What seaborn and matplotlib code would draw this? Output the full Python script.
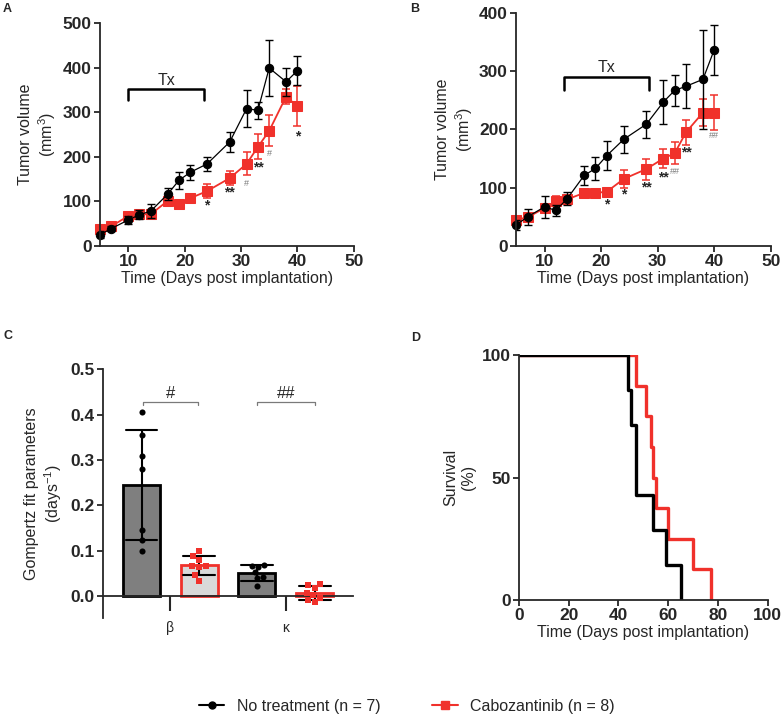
import numpy as np
import pandas as pd
import matplotlib
matplotlib.use("Agg")
import matplotlib.pyplot as plt
import seaborn as sns
from matplotlib.lines import Line2D

# ---- data ----
days = [5, 7, 10, 12, 14, 17, 19, 21, 24, 28, 31, 33, 35, 38, 40]

a_ctrl = [25, 39, 58, 70, 78, 116, 147, 165, 184, 233, 308, 304, 399, 368, 393]
a_ctrl_sd = [8, 5, 9, 10, 15, 13, 19, 17, 15, 22, 41, 19, 63, 32, 32]
a_cabo = [37, 44, 67, 71, 71, 101, 93, 107, 123, 152, 184, 222, 258, 335, 313]
a_cabo_sd = [10, 5, 6, 8, 10, 8, 6, 10, 16, 15, 26, 28, 35, 17, 45]
a_sig_days = [24, 28, 31, 33, 35, 40]
a_sig_text = ["*", "**", "#", "**", "#", "*"]
a_sig_y = [90, 120, 140, 176, 207, 246]

b_ctrl = [36, 50, 67, 61, 81, 121, 133, 155, 183, 209, 247, 267, 274, 286, 337]
b_ctrl_sd = [8, 14, 19, 9, 11, 16, 20, 25, 23, 23, 37, 27, 38, 85, 43]
b_cabo = [45, 49, 65, 77, 80, 91, 91, 93, 115, 132, 150, 159, 195, 229, 229]
b_cabo_sd = [5, 6, 7, 8, 8, 5, 3, 7, 16, 18, 17, 19, 21, 23, 30]
b_sig_days = [21, 24, 28, 31, 33, 35, 40]
b_sig_text = ["*", "*", "**", "**", "##", "**", "##"]
b_sig_y = [72, 88, 100, 118, 127, 161, 189]

beta_ctrl = [0.405, 0.355, 0.31, 0.28, 0.145, 0.125, 0.10]
beta_cabo = [0.10, 0.088, 0.08, 0.066, 0.066, 0.064, 0.046, 0.034]
kappa_ctrl = [0.068, 0.066, 0.065, 0.053, 0.042, 0.040, 0.022]
kappa_cabo = [0.027, 0.024, 0.018, 0.008, 0.002, -0.003, -0.008, -0.013]

ctrl_death = [44, 45, 47, 47, 54, 59, 65]
cabo_death = [47, 51, 53, 54, 55, 60, 70, 77]

labels = ["No treatment (n = 7)", "Cabozantinib (n = 8)"]
RED = "#f0312b"
GREY_SIG = "#7a7a7a"
TICK_FS = 12.5
LABEL_FS = 11.5

sns.set_style("ticks")
plt.rcParams["font.family"] = ["Liberation Sans", "DejaVu Sans"]
plt.rcParams["mathtext.default"] = "regular"
plt.rcParams["axes.linewidth"] = 1.3
plt.rcParams["xtick.major.width"] = 1.3
plt.rcParams["ytick.major.width"] = 1.3
plt.rcParams["xtick.major.size"] = 4
plt.rcParams["ytick.major.size"] = 4
plt.rcParams["xtick.major.pad"] = 2
plt.rcParams["ytick.major.pad"] = 2

fig = plt.figure(figsize=(7.81, 7.17), dpi=100)
axA = fig.add_axes([0.128, 0.657, 0.325, 0.311])
axB = fig.add_axes([0.661, 0.657, 0.326, 0.325])
axC = fig.add_axes([0.132, 0.138, 0.320, 0.347])
axD = fig.add_axes([0.6645, 0.163, 0.3185, 0.342])


def bold_ticks(ax, size=TICK_FS):
    for lab in ax.get_xticklabels() + ax.get_yticklabels():
        lab.set_fontweight("bold")
        lab.set_fontsize(size)


def growth_panel(ax, ctrl, ctrl_sd, cabo, cabo_sd, sig_days, sig_text, sig_y, ylim, ystep):
    sns.lineplot(x=days, y=cabo, color=RED, marker="s", markersize=6.5,
                 markeredgecolor=RED, linewidth=1.3, clip_on=False, ax=ax)
    ax.errorbar(days, cabo, yerr=cabo_sd, fmt="none", ecolor=RED, elinewidth=1.1,
                capsize=3, capthick=1.1)
    sns.lineplot(x=days, y=ctrl, color="black", marker="o", markersize=6,
                 markeredgecolor="black", linewidth=0.9, clip_on=False, ax=ax)
    ax.errorbar(days, ctrl, yerr=ctrl_sd, fmt="none", ecolor="black", elinewidth=1.0,
                capsize=3, capthick=1.0)
    for d, t, y in zip(sig_days, sig_text, sig_y):
        if "#" in t:
            ax.text(d, y, t, ha="center", va="center", fontsize=6.5, color=GREY_SIG)
        else:
            ax.text(d, y, t, ha="center", va="center", fontsize=10, fontweight="bold")
    ax.set_xlim(5, 50)
    ax.set_ylim(*ylim)
    ax.set_xticks([10, 20, 30, 40, 50])
    ax.set_yticks(np.arange(0, ylim[1] + 1, ystep))
    ax.set_xlabel("Time (Days post implantation)", fontsize=LABEL_FS, labelpad=1)
    ax.set_ylabel("Tumor volume\n(mm$^3$)", fontsize=LABEL_FS, labelpad=3)
    sns.despine(ax=ax)
    bold_ticks(ax)


growth_panel(axA, a_ctrl, a_ctrl_sd, a_cabo, a_cabo_sd, a_sig_days, a_sig_text, a_sig_y,
             (0, 500), 100)
axA.plot([10, 10, 23.5, 23.5], [327, 353, 353, 327], color="black", lw=1.8)
axA.text(16.8, 372, "Tx", ha="center", va="center", fontsize=11.5)

growth_panel(axB, b_ctrl, b_ctrl_sd, b_cabo, b_cabo_sd, b_sig_days, b_sig_text, b_sig_y,
             (0, 400), 100)
axB.plot([13.5, 13.5, 28.5, 28.5], [267, 290, 290, 267], color="black", lw=1.8)
axB.text(21, 307, "Tx", ha="center", va="center", fontsize=11.5)

# ---- panel C ----
c_order = ["β_ctrl", "β_cabo", "κ_ctrl", "κ_cabo"]
df_c = pd.DataFrame({
    "pos": ["β_ctrl"] * len(beta_ctrl) + ["β_cabo"] * len(beta_cabo)
           + ["κ_ctrl"] * len(kappa_ctrl) + ["κ_cabo"] * len(kappa_cabo),
    "value": beta_ctrl + beta_cabo + kappa_ctrl + kappa_cabo,
    "group": ["ctrl"] * len(beta_ctrl) + ["cabo"] * len(beta_cabo)
             + ["ctrl"] * len(kappa_ctrl) + ["cabo"] * len(kappa_cabo),
})
styles = {"ctrl": ("#7f7f7f", "black", "o", 4.4),
          "cabo": ("#d9d9d9", RED, "s", 4.8)}
for grp, (fill, edge, mk, sz) in styles.items():
    sub = df_c[df_c["group"] == grp]
    sns.barplot(data=sub, x="pos", y="value", order=c_order, color=fill, saturation=1,
                edgecolor=edge, linewidth=2, width=0.64, errorbar="sd", capsize=0.55,
                err_kws={"color": "black", "linewidth": 1.5}, ax=axC)
for grp, (fill, edge, mk, sz) in styles.items():
    sub = df_c[df_c["group"] == grp]
    sns.swarmplot(data=sub, x="pos", y="value", order=c_order, color=edge, marker=mk,
                  size=sz, linewidth=0, ax=axC, zorder=5)

for x0, x1, t in [(0.02, 0.98, "#"), (2.0, 3.0, "##")]:
    axC.plot([x0, x0, x1, x1], [0.421, 0.427, 0.427, 0.421], color=GREY_SIG, lw=0.9)
    axC.text((x0 + x1) / 2, 0.447, t, ha="center", va="center", fontsize=12)

axC.set_xlim(-0.667, 3.665)
axC.set_ylim(-0.048, 0.5)
axC.set_yticks([0.0, 0.1, 0.2, 0.3, 0.4, 0.5])
axC.set_xticks([0.5, 2.5])
axC.set_xticklabels(["β", "κ"], fontsize=13.5)
axC.spines["bottom"].set_position(("data", 0))
axC.spines["top"].set_visible(False)
axC.spines["right"].set_visible(False)
axC.tick_params(axis="x", length=11, width=1.5, pad=7)
axC.set_xlabel("")
axC.set_ylabel("Gompertz fit parameters\n(days$^{-1}$)", fontsize=LABEL_FS, labelpad=5)
for lab in axC.get_yticklabels():
    lab.set_fontweight("bold")
    lab.set_fontsize(TICK_FS)


# ---- panel D ----
def km_curve(deaths):
    n = len(deaths)
    times = np.unique(deaths)
    t = [0.0]
    s = [100.0]
    alive = n
    for tm in times:
        alive -= deaths.count(tm)
        t.append(tm)
        s.append(100.0 * alive / n)
    return t, s


for deaths, col in [(cabo_death, RED), (ctrl_death, "black")]:
    t, s = km_curve(deaths)
    sns.lineplot(x=t, y=s, color=col, linewidth=2.4, drawstyle="steps-post",
                 estimator=None, sort=False, ax=axD)
axD.set_xlim(0, 100)
axD.set_ylim(0, 100)
axD.set_xticks([0, 20, 40, 60, 80, 100])
axD.set_yticks([0, 50, 100])
axD.set_xlabel("Time (Days post implantation)", fontsize=LABEL_FS, labelpad=1)
axD.set_ylabel("Survival\n(%)", fontsize=LABEL_FS, labelpad=4)
sns.despine(ax=axD)
bold_ticks(axD)

# ---- panel letters and legend ----
for x, y, t in [(0.004, 0.988, "A"), (0.525, 0.988, "B"), (0.004, 0.532, "C"), (0.527, 0.529, "D")]:
    fig.text(x, y, t, fontsize=9, fontweight="bold", va="center")

handles = [Line2D([0], [0], color="black", marker="o", markersize=5, lw=1.5),
           Line2D([0], [0], color=RED, marker="s", markersize=6, lw=1.5)]
fig.legend(handles, labels, loc="center", bbox_to_anchor=(0.521, 0.015), ncol=2,
           frameon=False, fontsize=11.5, handlelength=1.6, columnspacing=3.2)

fig.savefig("out.png", dpi=100)
